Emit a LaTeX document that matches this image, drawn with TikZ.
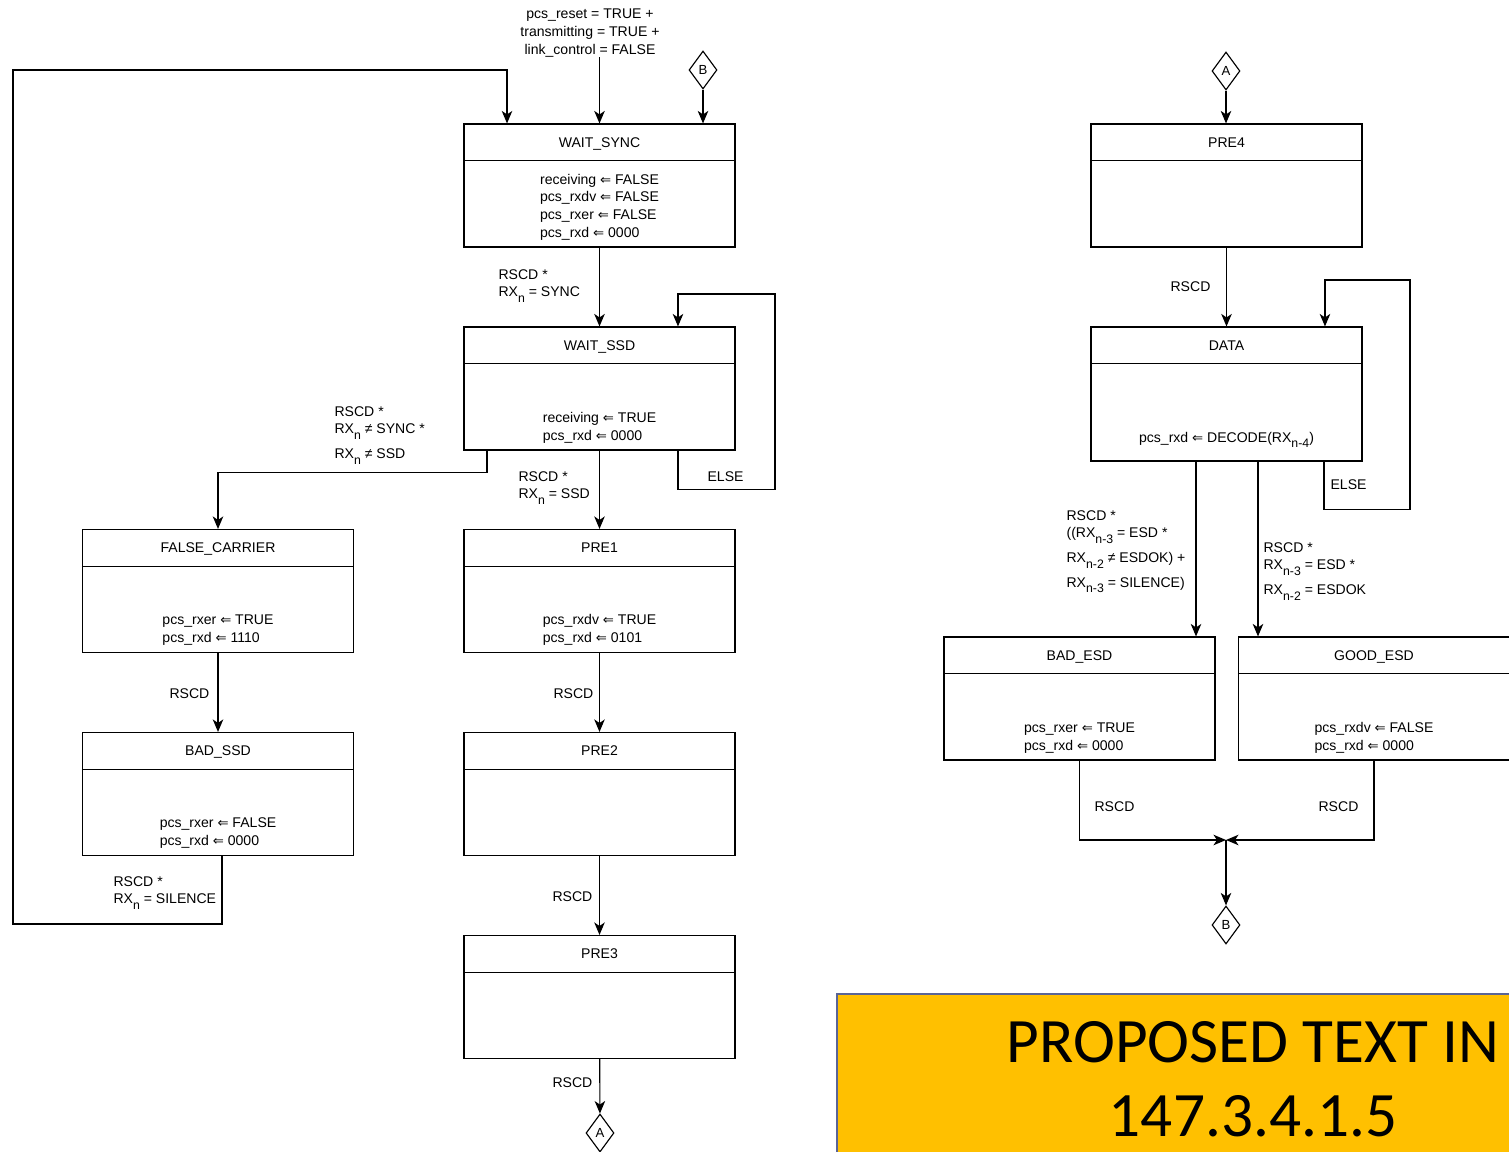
\documentclass[tikz,border=0pt]{standalone}
\usepackage{fontspec}
\setmainfont{Liberation Sans}
\newfontfamily\symfont{DejaVu Sans}
\newfontfamily\bannerfont{Carlito}
\usetikzlibrary{positioning,shapes.geometric,arrows.meta}

\definecolor{bannerfill}{RGB}{255,192,0}
\definecolor{bannerline}{RGB}{90,100,150}

\newcommand{\lowidx}[1]{\raisebox{-3.2pt}{\fontsize{7}{7}\selectfont #1}}
\newcommand{\assign}{{\symfont\fontsize{7.5}{7.5}\selectfont ⇐}}

\begin{document}
\begin{tikzpicture}[
    x=0.02cm, y=-0.02cm,
    line width=0.65pt,
    state/.style={
        draw,
        minimum width=5.42cm,
        minimum height=2.46cm,
        inner sep=0pt
    },
    title/.style={
        minimum height=0.72cm,
        inner sep=0pt,
        text height=5.7pt,
        text depth=0pt,
        font=\fontsize{8}{10}\selectfont
    },
    body/.style={
        align=left,
        inner sep=2pt,
        font=\fontsize{8}{10}\selectfont
    },
    lbl/.style={
        align=left,
        inner sep=0pt,
        anchor=north west,
        font=\fontsize{8}{10}\selectfont
    },
    conn/.style={
        draw, diamond,
        minimum width=0.56cm,
        minimum height=0.76cm,
        inner sep=0pt,
        font=\fontsize{7.5}{7.5}\selectfont
    },
    arr/.style={-{Stealth[length=2.5mm, width=2.1mm, inset=0.7mm]}}
]
    \useasboundingbox (0,0) rectangle (1509,1152);

    % left column
    \node[state] (wsync) at (599.5,185.5) {};
    \node[state] (wssd)  at (599.5,388.5) {};
    \node[state] (pre1)  at (599.5,591) {};
    \node[state] (pre2)  at (599.5,794) {};
    \node[state] (pre3)  at (599.5,997) {};
    \node[state] (fcar)  at (218,591) {};
    \node[state] (bssd)  at (218,794) {};

    % right column
    \node[state] (pre4) at (1226.5,185.5) {};
    \node[state, minimum height=2.68cm] (data) at (1226.5,394) {};
    \node[state] (besd) at (1079.5,698.5) {};
    \node[state] (gesd) at (1374,698.5) {};

    % titles and header lines
    \foreach \s/\ttl in {wsync/WAIT\_SYNC, wssd/WAIT\_SSD, pre1/PRE1, pre2/PRE2,
        pre3/PRE3, fcar/FALSE\_CARRIER, bssd/BAD\_SSD, pre4/PRE4, data/DATA,
        besd/BAD\_ESD, gesd/GOOD\_ESD} {
        \node[title, below=0pt of \s.north] (\s-t) {\ttl};
        \draw (\s-t.south -| \s.west) -- (\s-t.south -| \s.east);
    }

    % state actions
    \node[body, above=2pt of wsync.south]
        {receiving \assign{} FALSE\\pcs\_rxdv \assign{} FALSE\\pcs\_rxer \assign{} FALSE\\pcs\_rxd \assign{} 0000};
    \node[body, above=2pt of wssd.south]
        {receiving \assign{} TRUE\\pcs\_rxd \assign{} 0000};
    \node[body, above=2pt of pre1.south]
        {pcs\_rxdv \assign{} TRUE\\pcs\_rxd \assign{} 0101};
    \node[body, above=2pt of fcar.south]
        {pcs\_rxer \assign{} TRUE\\pcs\_rxd \assign{} 1110};
    \node[body, above=2pt of bssd.south]
        {pcs\_rxer \assign{} FALSE\\pcs\_rxd \assign{} 0000};
    \node[body, above=5.6pt of data.south]
        {pcs\_rxd \assign{} DECODE(RX\lowidx{n-4})};
    \node[body, above=2pt of besd.south]
        {pcs\_rxer \assign{} TRUE\\pcs\_rxd \assign{} 0000};
    \node[body, above=2pt of gesd.south]
        {pcs\_rxdv \assign{} FALSE\\pcs\_rxd \assign{} 0000};

    % off-page connectors
    \node[conn] (bin)  at (703,70) {B};
    \node[conn] (aout) at (600,1133) {A};
    \node[conn] (ain)  at (1226,71) {A};
    \node[conn] (bout) at (1226,925) {B};
    \coordinate (join) at (1226,840);

    % entry
    \node[lbl, anchor=center, align=center] (reset) at (590,33)
        {pcs\_reset = TRUE +\\transmitting = TRUE +\\link\_control = FALSE};
    \draw[arr] (reset.south -| wsync.north) -- (wsync.north);
    \draw[arr] (bin) -- (bin |- wsync.north);

    % transitions, left
    \draw[arr] (wsync) -- (wssd);
    \node[lbl] at (498,269) {RSCD *\\RX\lowidx{n} = SYNC};

    \draw[arr] ([xshift=1.57cm]wssd.south) -- ++(0,39) -| (775,294)
        -| ([xshift=1.57cm]wssd.north);
    \node[lbl] at (707,471) {ELSE};

    \draw[arr] ([xshift=-2.25cm]wssd.south) -- ++(0,22) -| (fcar.north);
    \node[lbl] at (334,406) {RSCD *\\RX\lowidx{n} ≠ SYNC *\\[4pt]RX\lowidx{n} ≠ SSD};

    \draw[arr] (wssd) -- (pre1);
    \node[lbl] at (518,471) {RSCD *\\RX\lowidx{n} = SSD};

    \draw[arr] (pre1) -- (pre2);
    \node[lbl] at (553,688) {RSCD};
    \draw[arr] (pre2) -- (pre3);
    \node[lbl] at (552,891) {RSCD};
    \draw[arr] (pre3) -- (aout);
    \node[lbl] at (552,1077) {RSCD};

    \draw[arr] (fcar) -- (bssd);
    \node[lbl] at (169,688) {RSCD};

    \draw[arr] ([xshift=0.08cm]bssd.south) -- ++(0,68) -| (13,70)
        -| ([xshift=-1.85cm]wsync.north);
    \node[lbl] at (113,876) {RSCD *\\RX\lowidx{n} = SILENCE};

    % transitions, right
    \draw[arr] (ain) -- (ain |- pre4.north);
    \draw[arr] (pre4) -- (data);
    \node[lbl] at (1170,281) {RSCD};

    \draw[arr] ([xshift=1.95cm]data.south) -- ++(0,48) -| (1410,280)
        -| ([xshift=1.97cm]data.north);
    \node[lbl] at (1330,479) {ELSE};

    \draw[arr] ([xshift=-0.61cm]data.south) -- ([xshift=-0.61cm]data.south |- besd.north);
    \node[lbl] at (1066,510)
        {RSCD *\\((RX\lowidx{n-3} = ESD *\\[4pt]RX\lowidx{n-2} ≠ ESDOK) +\\[4pt]RX\lowidx{n-3} = SILENCE)};

    \draw[arr] ([xshift=0.63cm]data.south) -- ([xshift=0.63cm]data.south |- gesd.north);
    \node[lbl] at (1263,542)
        {RSCD *\\RX\lowidx{n-3} = ESD *\\[4pt]RX\lowidx{n-2} = ESDOK};

    \draw[arr] (besd.south) |- (join);
    \node[lbl] at (1094,801) {RSCD};
    \draw[arr] (gesd.south) |- (join);
    \node[lbl] at (1318,801) {RSCD};
    \draw[arr] (join) -- (bout);

    % banner
    \path[fill=bannerfill, draw=bannerline, line width=1pt] (837,994) rectangle (1530,1170);
    \node[inner sep=0pt, anchor=north, align=center,
        font=\bannerfont\fontsize{36}{42}\selectfont] (banner) at (1253,1021)
        {PROPOSED TEXT IN\\147.3.4.1.5};
\end{tikzpicture}
\end{document}
